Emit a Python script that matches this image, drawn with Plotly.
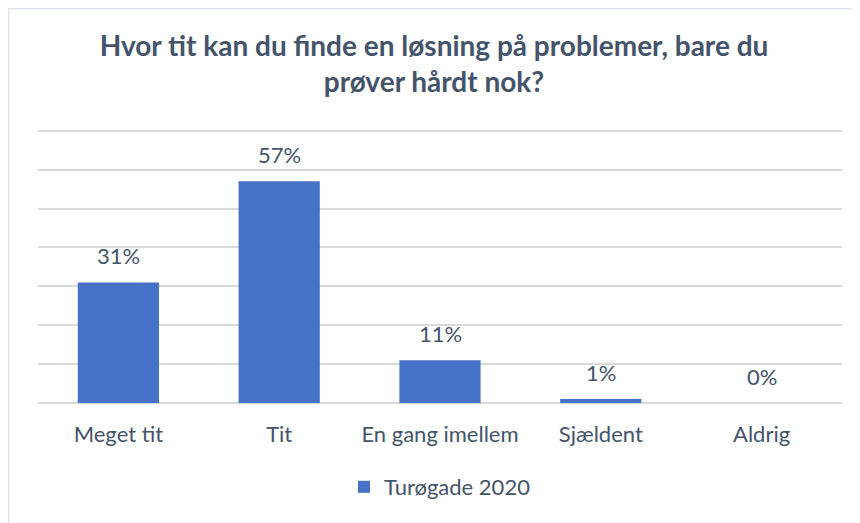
import plotly.graph_objects as go

categories = ["Meget tit", "Tit", "En gang imellem", "Sjældent", "Aldrig"]
values = [0.31, 0.57, 0.11, 0.01, 0.0]
labels = ["31%", "57%", "11%", "1%", "0%"]
grid_vals = [0.0, 0.1, 0.2, 0.3, 0.4, 0.5, 0.6, 0.7]
series_name = "Turøgade 2020"
title_text = "Hvor tit kan du finde en løsning på problemer, bare du<br>prøver hårdt nok?"

FONT = "Lato"
TXT = "#44546A"

fig = go.Figure()
fig.add_trace(go.Bar(
    x=categories, y=values, name=series_name,
    marker=dict(color="#4571C7", line=dict(width=0)),
    width=0.505,
))

for c, v, t in zip(categories, values, labels):
    fig.add_annotation(x=c, y=v, text=t, showarrow=False, yanchor="bottom", yshift=11,
                       font=dict(family=FONT, size=22, color=TXT))

W, H = 852, 515
L, R, T, B = 30, 18, 115, 120
pw, ph = W - L - R, H - T - B

fig.update_layout(
    width=W, height=H,
    margin=dict(l=L, r=R, t=T, b=B),
    paper_bgcolor="white", plot_bgcolor="white",
    title=dict(text=title_text, x=0.5, xanchor="center", y=1 - 48 / H, yanchor="middle",
               font=dict(family=FONT, size=28, color=TXT, weight="bold")),
    showlegend=True,
    legend=dict(orientation="h", x=0.5, xanchor="center", y=-84 / ph, yanchor="middle",
                font=dict(family=FONT, size=22, color=TXT)),
    bargap=0.495,
    xaxis=dict(showgrid=False, showline=False, ticks="", tickfont=dict(family=FONT, size=22, color=TXT),
               ticklabelstandoff=16),
    yaxis=dict(range=[0, 0.72], tickmode="array", tickvals=grid_vals, showticklabels=False, showgrid=True,
               gridcolor="#D9D9D9", gridwidth=1.5, zeroline=True, zerolinecolor="#D9D9D9",
               zerolinewidth=1.5),
    shapes=[
        dict(type="line", xref="paper", yref="paper", x0=(0.5 - L) / pw, x1=(W + 5 - L) / pw,
             y0=(H - B - 0.5) / ph, y1=(H - B - 0.5) / ph, line=dict(color="#DDE2E8", width=1.5)),
        dict(type="line", xref="paper", yref="paper", x0=(0.5 - L) / pw, x1=(0.5 - L) / pw,
             y0=(H - B - 0.5) / ph, y1=-(B + 5) / ph, line=dict(color="#DDE2E8", width=1.5)),
    ],
)

fig.write_html("out.html")
